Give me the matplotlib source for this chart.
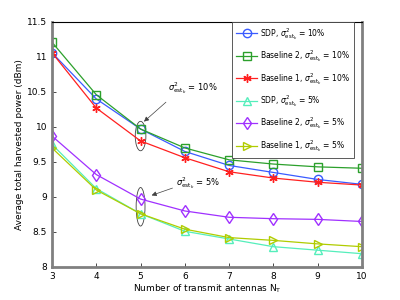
import matplotlib
matplotlib.use("Agg")
import matplotlib.pyplot as plt
from matplotlib.patches import Ellipse

nt = [3, 4, 5, 6, 7, 8, 9, 10]

sdp_10 = [11.06, 10.40, 9.97, 9.65, 9.45, 9.35, 9.25, 9.18]
base2_10 = [11.21, 10.46, 9.97, 9.70, 9.53, 9.47, 9.43, 9.41]
base1_10 = [11.06, 10.27, 9.80, 9.56, 9.36, 9.27, 9.21, 9.17]
sdp_5 = [9.75, 9.12, 8.76, 8.51, 8.40, 8.29, 8.24, 8.19]
base2_5 = [9.87, 9.32, 8.97, 8.80, 8.71, 8.69, 8.68, 8.65]
base1_5 = [9.70, 9.10, 8.76, 8.54, 8.42, 8.38, 8.33, 8.29]

lab = r'$\sigma^2_{\mathrm{est}_k}$'
series = [
    (sdp_10, '#3a5bff', 'o', 'SDP, ' + lab + ' = 10%'),
    (base2_10, '#2ca02c', 's', 'Baseline 2, ' + lab + ' = 10%'),
    (base1_10, '#ff2020', (6, 2, 0), 'Baseline 1, ' + lab + ' = 10%'),
    (sdp_5, '#55eebb', '^', 'SDP, ' + lab + ' = 5%'),
    (base2_5, '#a030ff', 'd', 'Baseline 2, ' + lab + ' = 5%'),
    (base1_5, '#b0cc00', '>', 'Baseline 1, ' + lab + ' = 5%'),
]

fig = plt.figure(figsize=(4, 3), dpi=100)
ax = fig.add_axes([0.13, 0.11, 0.775, 0.817])

for ys, c, m, name in series:
    ax.plot(nt, ys, color=c, marker=m, markersize=6, markerfacecolor='none',
            markeredgecolor=c, lw=0.9, label=name)

ax.set_xlim(3, 10)
ax.set_ylim(8, 11.5)
ax.set_xticks(nt)
ax.set_yticks([8, 8.5, 9, 9.5, 10, 10.5, 11, 11.5])
ax.set_yticklabels(['8', '8.5', '9', '9.5', '10', '10.5', '11', '11.5'])
ax.tick_params(labelsize=6.5, direction='in', length=3, width=0.5)
ax.set_xlabel(r'Number of transmit antennas N$_\mathrm{T}$', fontsize=6.5, labelpad=1)
ax.set_ylabel('Average total harvested power (dBm)', fontsize=6.5, labelpad=2)

for s in ['left', 'bottom', 'right']:
    ax.spines[s].set_color('#808080')
    ax.spines[s].set_linewidth(2)
ax.spines['top'].set_linewidth(0.8)

# group annotations
ax.add_patch(Ellipse((5, 9.87), 0.24, 0.42, fill=False, lw=0.6, color='#404040'))
ax.add_patch(Ellipse((5, 8.86), 0.2, 0.55, fill=False, lw=0.6, color='#404040'))
ax.text(5.62, 10.55, lab + ' = 10%', fontsize=6, va='center')
ax.text(5.8, 9.2, lab + ' = 5%', fontsize=6, va='center')
arrow = dict(arrowstyle='-|>', color='#404040', lw=0.5, mutation_scale=7)
ax.annotate('', xy=(5.03, 10.05), xytext=(5.62, 10.38), arrowprops=arrow)
ax.annotate('', xy=(5.19, 9.01), xytext=(5.78, 9.14), arrowprops=arrow)

leg = ax.legend(loc='upper right', bbox_to_anchor=(0.974, 1.0), fontsize=5.5,
                fancybox=False, edgecolor='#404040', borderpad=0.5,
                labelspacing=0.85, handlelength=2.8, handletextpad=0.4,
                borderaxespad=0, framealpha=1)
leg.get_frame().set_linewidth(0.6)

fig.savefig('out.png', dpi=100)
